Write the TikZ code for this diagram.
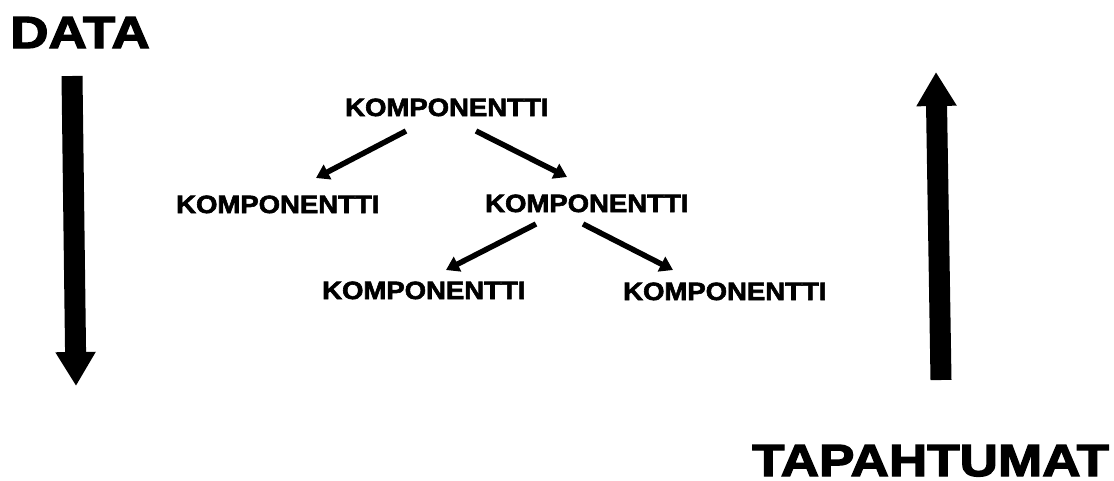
\documentclass[tikz,border=0pt]{standalone}
\usepackage{fontspec}
\newfontfamily\heavy{Liberation Sans Bold}[FakeStretch=1.1,FakeBold=2.5]
\newfontfamily\heavier{Liberation Sans Bold}[FakeStretch=1.18,FakeBold=3]
\usetikzlibrary{arrows.meta}
\begin{document}
\begin{tikzpicture}[x=1pt,y=-1pt,
  comp/.style={font=\heavy\fontsize{25}{25}\selectfont, inner sep=0pt, anchor=base west},
  title/.style={font=\heavier\fontsize{45}{45}\selectfont, inner sep=0pt, anchor=base west},
  link/.style={line width=5.5pt, -{Triangle[width=16pt,length=13pt]}},
  flow/.style={line width=21pt, -{Triangle[width=38pt,length=34pt]}}]
\useasboundingbox (0,0) rectangle (1114,480);

% headings
\node[title] (data) at (10,48) {DATA};
\node[title] (events) at (752,476) {TAPAHTUMAT};

% component tree
\node[comp] (root) at (345,116) {KOMPONENTTI};
\node[comp] (left) at (176,213) {KOMPONENTTI};
\node[comp] (right) at (485,212) {KOMPONENTTI};
\node[comp] (rleft) at (322,299) {KOMPONENTTI};
\node[comp] (rright) at (623,300) {KOMPONENTTI};

% tree links
\coordinate (r1) at (406,131); \coordinate (l1) at (316,178);
\coordinate (r2) at (476,131); \coordinate (l2) at (567,177);
\coordinate (r3) at (536,224); \coordinate (l3) at (446,270);
\coordinate (r4) at (583,224); \coordinate (l4) at (673,270);
\draw[link] (r1) -- (l1);
\draw[link] (r2) -- (l2);
\draw[link] (r3) -- (l3);
\draw[link] (r4) -- (l4);

% data flows down, events flow up
\coordinate (dtop) at (72,76); \coordinate (dbot) at (76,386);
\coordinate (ebot) at (941,380); \coordinate (etop) at (936,72);
\draw[flow] (dtop) -- (dbot);
\draw[flow] (ebot) -- (etop);
\end{tikzpicture}
\end{document}
